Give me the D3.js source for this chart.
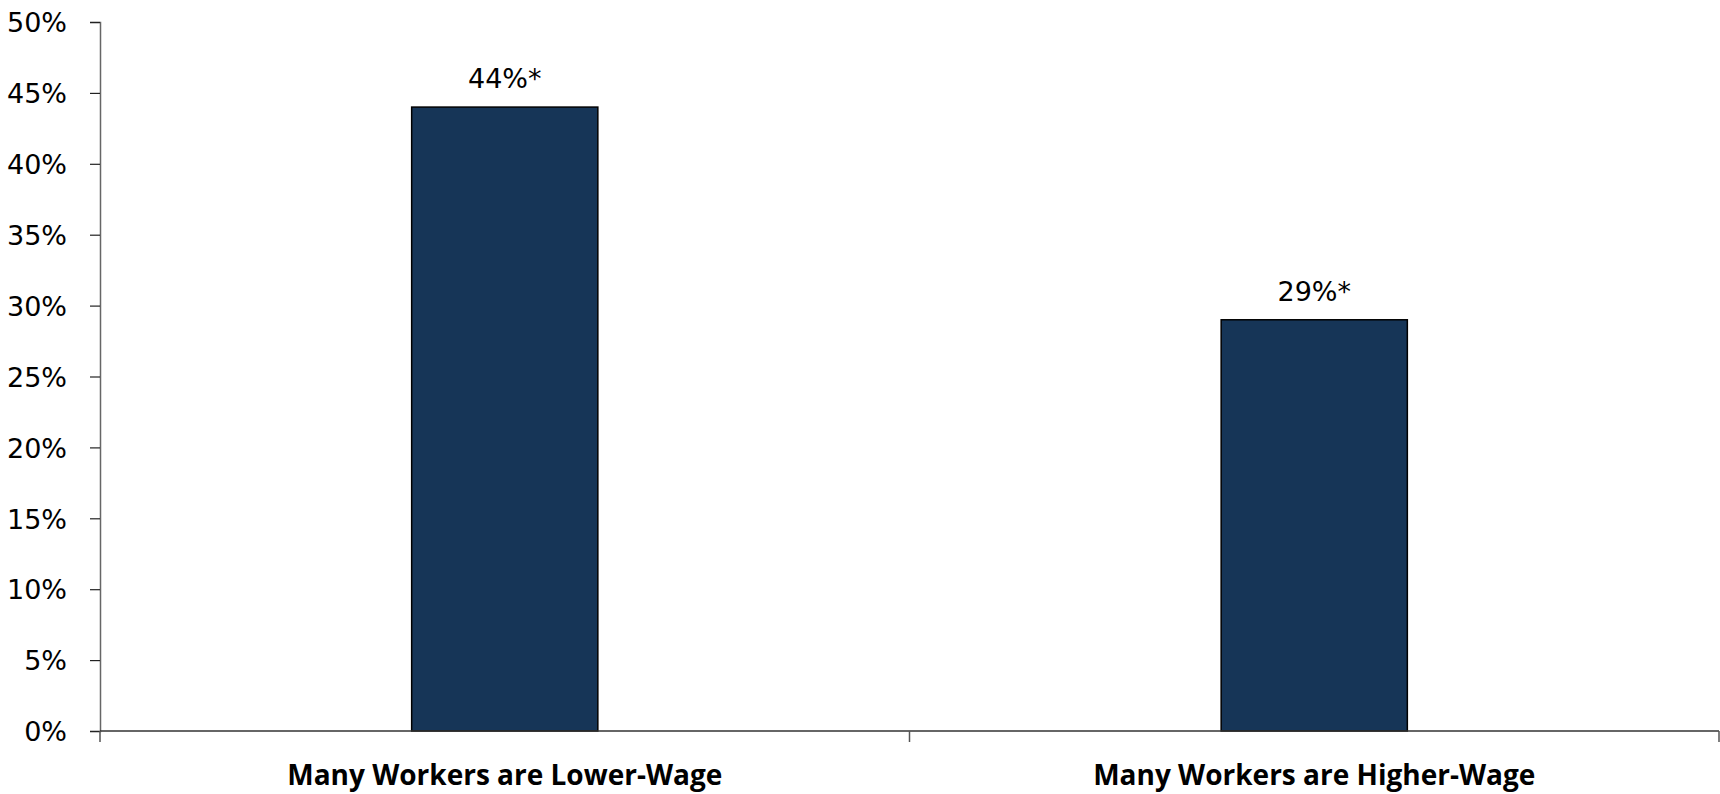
<!DOCTYPE html>
<html>
<head>
<meta charset="utf-8">
<script src="https://cdn.jsdelivr.net/npm/d3@7"></script>
<style>
  body { margin: 0; background: #fff; }
  svg text { font-family: "DejaVu Sans", sans-serif; fill: #000; }
</style>
</head>
<body>
<svg id="chart" width="1720" height="794"></svg>
<script>
var categories = ["Many Workers are Lower-Wage", "Many Workers are Higher-Wage"];
var values = [44, 29];
var valueLabels = ["44%*", "29%*"];
var yTicks = [0, 5, 10, 15, 20, 25, 30, 35, 40, 45, 50];

var margin = {top: 22, right: 1, bottom: 63, left: 100},
    width = 1720 - margin.left - margin.right,
    height = 794 - margin.top - margin.bottom;

var svg = d3.select("#chart");
var g = svg.append("g")
    .attr("transform", "translate(" + margin.left + "," + margin.top + ")");

var x = d3.scaleBand()
    .domain(categories)
    .range([0, width])
    .paddingInner(0.77)
    .paddingOuter(0.385);

var y = d3.scaleLinear()
    .domain([0, 50])
    .range([height, 0]);

// y axis
var yAxis = g.append("g")
    .call(d3.axisLeft(y).tickValues(yTicks).tickSize(10).tickPadding(23)
      .tickFormat(function(d){ return d + "%"; }));
yAxis.select(".domain").attr("stroke", "#666").attr("stroke-width", 1.5);
yAxis.selectAll(".tick line").attr("stroke", "#222").attr("stroke-width", 1.2);
yAxis.selectAll("text").style("font-size", "27px").attr("dy", "0.36em");

// bars
g.selectAll(".bar")
  .data(values)
  .enter().append("rect")
    .attr("class", "bar")
    .attr("x", function(d, i){ return x(categories[i]); })
    .attr("y", function(d){ return y(d); })
    .attr("width", x.bandwidth())
    .attr("height", function(d){ return height - y(d); })
    .attr("fill", "#163557")
    .attr("stroke", "#000")
    .attr("stroke-width", 1.5);

g.selectAll(".val")
  .data(values)
  .enter().append("text")
    .attr("class", "val")
    .attr("x", function(d, i){ return x(categories[i]) + x.bandwidth() / 2; })
    .attr("y", function(d){ return y(d) - 19; })
    .attr("text-anchor", "middle")
    .style("font-size", "27px")
    .text(function(d, i){ return valueLabels[i]; });

// x axis
var xEdge = d3.scaleLinear().domain([0, categories.length]).range([0, width]);
var xAxis = g.append("g")
    .attr("transform", "translate(0," + height + ")");
xAxis.append("line")
    .attr("x1", 0).attr("x2", width)
    .attr("stroke", "#333").attr("stroke-width", 1.5);
xAxis.selectAll(".xtick")
  .data(d3.range(categories.length + 1))
  .enter().append("line")
    .attr("x1", function(d){ return xEdge(d); })
    .attr("x2", function(d){ return xEdge(d); })
    .attr("y1", 0).attr("y2", 11)
    .attr("stroke", "#555").attr("stroke-width", 1.5);
xAxis.selectAll(".xlabel")
  .data(categories)
  .enter().append("text")
    .attr("x", function(d){ return x(d) + x.bandwidth() / 2; })
    .attr("y", 54)
    .attr("text-anchor", "middle")
    .style("font-family", "'Open Sans', sans-serif")
    .style("font-size", "28px")
    .style("font-weight", "bold")
    .text(function(d){ return d; });
</script>
</body>
</html>
